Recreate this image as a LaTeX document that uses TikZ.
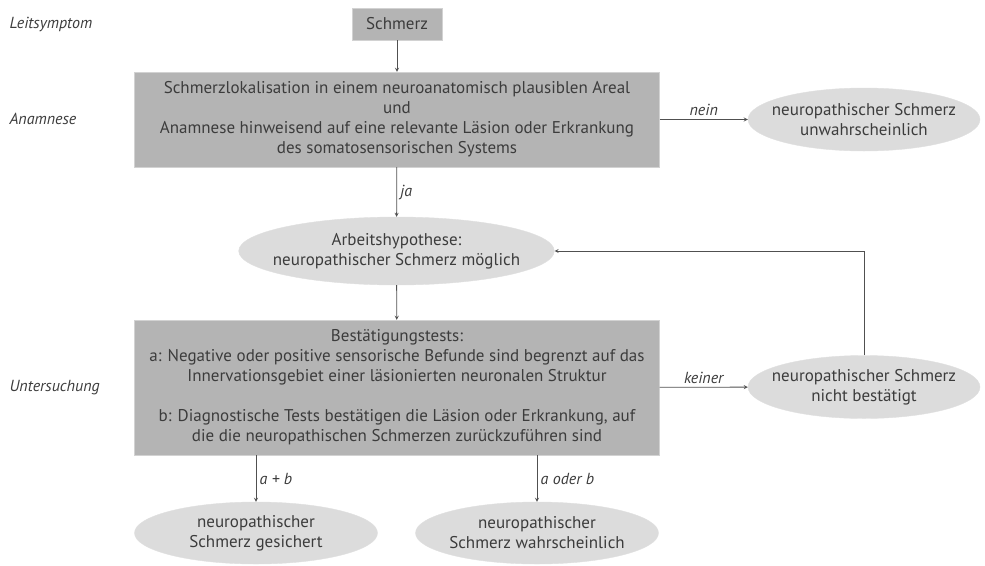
\documentclass[tikz,border=0pt]{standalone}
\usepackage{fontspec}
\setmainfont{PT Sans}
\usepackage{tikz}
\usetikzlibrary{shapes.geometric}
\definecolor{boxgray}{RGB}{180,180,180}
\definecolor{ellgray}{RGB}{220,220,220}
\definecolor{txtgray}{RGB}{60,60,60}
\definecolor{linegray}{RGB}{80,80,80}

\begin{document}
\begin{tikzpicture}[x=1pt,y=-1pt,
        box/.style = {fill=boxgray, draw=gray!35, align=center, inner sep=2pt},
        oval/.style = {ellipse, fill=ellgray, draw=gray!25, align=center, inner xsep=-12pt, inner ysep=0pt},
        lbl/.style = {font=\itshape\fontsize{16}{19}\selectfont, text=txtgray},
        every node/.append style = {text=txtgray, font=\fontsize{17}{20}\selectfont},
        arr/.style = {->, draw=linegray, line width=0.8pt}, >=stealth]
        \useasboundingbox (0,0) rectangle (985,565);
        % linke Spalte
        \node[lbl, anchor=west] (l1) at (6,24) {Leitsymptom};
        \node[lbl, anchor=west] (l2) at (6,119) {Anamnese};
        \node[lbl, anchor=west] (l3) at (6,388) {Untersuchung};
        % Knoten
        \node[box, minimum width=525, minimum height=95] (2) at (397,119.5) {Schmerzlokalisation in einem neuroanatomisch plausiblen Areal\\ und\\ Anamnese hinweisend auf eine relevante Läsion oder Erkrankung\\ des somatosensorischen Systems};
        \node[box, minimum width=90, minimum height=32] (1) at (397,24) {Schmerz};
        \node[oval, minimum width=232, minimum height=63] (3) at (864,119.5) {neuropathischer Schmerz\\ unwahrscheinlich};
        \node[oval, minimum width=307, minimum height=68] (4) at (396.5,251) {Arbeitshypothese:\\ neuropathischer Schmerz möglich};
        \node[box, minimum width=525, minimum height=135] (5) at (397,387.5) {Bestätigungstests:\\ a: Negative oder positive sensorische Befunde sind begrenzt auf das\\ Innervationsgebiet einer läsionierten neuronalen Struktur\\[20pt] b: Diagnostische Tests bestätigen die Läsion oder Erkrankung, auf\\ die die neuropathischen Schmerzen zurückzuführen sind};
        \node[oval, minimum width=232, minimum height=63] (6) at (864,387) {neuropathischer Schmerz\\ nicht bestätigt};
        \node[oval, minimum width=243, minimum height=62] (7) at (256,533) {neuropathischer\\ Schmerz gesichert};
        \node[oval, minimum width=243, minimum height=62] (8) at (537,533) {neuropathischer\\ Schmerz wahrscheinlich};
        % Pfeile
        \draw[arr] (1) -- (2);
        \draw[arr] (2) -- node[lbl, midway, above] {nein} (3);
        \draw[arr] (2) -- node[lbl, midway, right] {ja} (4);
        \draw[arr] (4) -- (5);
        \draw[arr] (5) -- node[lbl, midway, above] {keiner} (6);
        \draw[arr] (5.south -| 7) -- node[lbl, midway, right] {a + b} (7);
        \draw[arr] (5.south -| 8) -- node[lbl, midway, right] {a oder b} (8);
        \draw[arr] (6) |- (4);
        \end{tikzpicture}
\end{document}
